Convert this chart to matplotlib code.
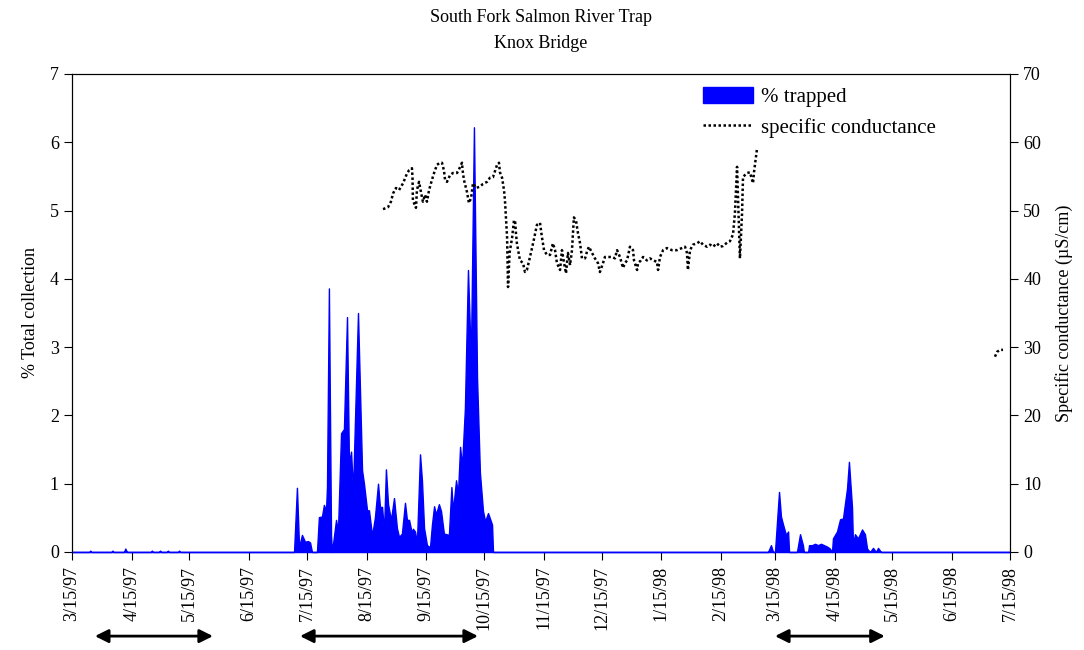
import datetime as dt
import numpy as np
import matplotlib
matplotlib.use('Agg')
import matplotlib.pyplot as plt
import matplotlib.dates as mdates
from matplotlib.patches import Patch
from matplotlib.lines import Line2D
from matplotlib.transforms import blended_transform_factory

plt.rcParams['font.family'] = ['Liberation Serif', 'DejaVu Serif']

# jours comptes depuis le 15/3/97
start = dt.datetime(1997, 3, 15)
end = dt.datetime(1998, 7, 15)

# % du total capture
trap_day = [0, 9, 9.5, 10, 20.5, 21, 21.5, 27, 27.7, 28.5, 41, 41.5, 42, 45.2, 45.7, 46.2,
            49.3, 49.8, 50.3, 55.1, 55.6, 56.1,
            115.3, 116.8, 117.9, 119.4, 121, 122.5, 123.6, 124.6, 127.2, 128.2, 129.8, 130.8,
            131.9, 132.4, 133.4, 134.5, 135, 137.1, 138.1, 139.7, 141.2, 142.8, 143.8, 144.9,
            145.9, 148.5, 150.6, 151.6, 153.2, 154.2, 155.8, 157.3, 158.9, 159.9, 161, 162,
            163, 164.1, 165.6, 167.2, 168.7, 169.8, 171.3, 172.9, 173.9, 175, 176.5, 177,
            178.1, 179.1, 180.7, 181.7, 182.8, 184.3, 185.9, 186.9, 188, 189, 190.5, 191.6,
            193.1, 195.7, 197, 197.8, 199.4, 200.4, 201.5, 202.5, 204, 205.6, 207.1, 208.7,
            210.3, 211.8, 213.4, 214.5, 216, 217.5, 218.1, 218.6,
            361.4, 362.9, 364, 365, 367.1, 368.1, 369.2, 370.7, 371.8, 372.3, 376.4, 378,
            379.5, 380, 382.2, 382.7, 384.2, 385.8, 387.3, 388.9, 390.4, 392, 393.5, 394.6,
            395.1, 397.2, 398.8, 400.3, 401.3, 402.4, 403.4, 405, 405.5, 406.5, 408.1, 410.2,
            411.7, 412.8, 414.3, 415.9, 417.4, 418.5, 420, 487]
trap_pct = [0, 0, 0.02, 0, 0, 0.02, 0, 0, 0.05, 0, 0, 0.02, 0, 0, 0.02, 0,
            0, 0.02, 0, 0, 0.02, 0,
            0, 0.94, 0.07, 0.25, 0.15, 0.16, 0.14, 0, 0, 0.51, 0.52, 0.69,
            0.61, 0.95, 3.86, 0.24, 0, 0.47, 0.3, 1.74, 1.80, 3.44, 1.3, 1.47,
            0.88, 3.50, 1.2, 1.0, 0.61, 0.61, 0.24, 0.51, 1.0, 0.66, 0.66, 0.3,
            1.21, 0.7, 0.47, 0.79, 0.35, 0.22, 0.27, 0.72, 0.47, 0.47, 0.27, 0.34,
            0.3, 0.13, 1.43, 1.05, 0.35, 0.1, 0.07, 0.4, 0.67, 0.55, 0.7, 0.6,
            0.27, 0.25, 0.95, 0.6, 1.05, 0.85, 1.54, 1.25, 2.1, 4.13, 2.81, 6.22,
            2.56, 1.16, 0.6, 0.45, 0.57, 0.45, 0.4, 0,
            0, 0.1, 0, 0, 0.88, 0.52, 0.4, 0.25, 0.3, 0, 0, 0.26,
            0.1, 0, 0, 0.1, 0.1, 0.12, 0.1, 0.12, 0.1, 0.08, 0.05, 0,
            0.2, 0.3, 0.48, 0.49, 0.7, 0.93, 1.32, 0.65, 0.1, 0.26, 0.2, 0.33,
            0.26, 0.05, 0, 0.06, 0, 0.06, 0, 0]

# conductance specifique (uS/cm)
cond_day = [161.5, 164.1, 165.6, 166.7, 168.2, 169.8, 171.9, 173.9, 175, 176.5, 176.8, 177,
            178.6, 179.1, 180.2, 181.2, 182.2, 183.3, 184.3, 185.4, 186.9, 188, 189.5, 191.1,
            192.1, 193.1, 193.7, 194.7, 196.3, 197.8, 199.9, 200.9, 202.5, 202.8, 203.5, 205.1,
            206.1, 207.2, 208.2, 209.8, 211.8, 213.4, 215.5, 217, 218.6, 220.7, 221.7, 222.2,
            223.3, 224.3, 224.8, 225.9, 226.4, 227.2, 228.5, 229.5, 230.1, 230.5, 231, 232.6,
            234.2, 235.2, 236.2, 237.8, 239.4, 241.4, 243, 244, 245.1, 246.6, 248.2, 249.7,
            250.8, 251.8, 253.4, 254.4, 255.5, 256.5, 257.5, 258.6, 259.6, 260.6, 261.7, 262.7,
            263.8, 264.8, 266.4, 267.4, 268.4, 270, 271.5, 273.1, 274.1, 275.7, 276.7, 278.3,
            280.4, 281.9, 283, 284.5, 286.1, 287.1, 288.2, 289.7, 291.3, 291.8, 293.4, 293.9,
            295.4, 296.5, 298.5, 300.1, 301.7, 303.7, 304.3, 305.3, 306.9, 308.9, 311.5, 314.1,
            316.7, 318.3, 319.3, 319.8, 320.9, 322.4, 324.5, 326.1, 327.6, 329.7, 331.3, 332.8,
            334.9, 336.4, 338, 340.1, 341.6, 343.2, 344.2, 345.3, 345.8, 346.8, 347.9, 348.4,
            349.4, 350.5, 352, 353.1, 353.6, 354.1, 355.1, 355.6,
            400, 479.2, 480.3, 481.8, 483.4]
cond_val = [50.2, 50.5, 51.3, 52.5, 53.3, 53.0, 54.0, 55.4, 55.9, 56.2, 54.9, 51.5,
            50.4, 53.0, 54.2, 52.7, 51.3, 52.3, 51.3, 53.0, 54.5, 55.5, 56.7, 57.0,
            57.0, 55.9, 54.5, 54.2, 55.2, 55.5, 55.5, 56.0, 57.0, 55.9, 54.5, 52.7,
            51.1, 51.8, 54.0, 53.3, 53.5, 53.9, 54.2, 54.8, 54.9, 56.7, 57.0, 55.6,
            54.8, 53.0, 51.5, 46.1, 38.8, 43.8, 46.0, 48.6, 48.3, 46.7, 45.2, 42.7,
            42.3, 41.0, 41.3, 43.2, 45.2, 47.9, 48.2, 46.1, 44.2, 43.5, 43.5, 45.2,
            44.2, 42.3, 41.3, 44.2, 42.3, 40.8, 43.8, 42.0, 44.2, 49.0, 48.5, 46.7,
            45.2, 43.0, 43.0, 44.0, 44.7, 43.8, 43.0, 42.3, 41.0, 42.3, 43.2, 43.2,
            43.2, 43.0, 44.2, 43.2, 41.6, 42.3, 42.7, 44.7, 44.2, 42.7, 41.3, 42.3,
            42.7, 43.2, 42.7, 43.0, 42.7, 42.5, 41.3, 43.2, 44.2, 44.5, 44.2, 44.2,
            44.5, 44.7, 43.8, 41.3, 44.2, 45.0, 45.2, 45.5, 45.0, 44.7, 45.0, 44.7,
            45.2, 44.7, 44.8, 45.3, 45.5, 46.5, 49.6, 56.4, 52.0, 43.0, 49.6, 54.9,
            55.2, 55.5, 55.6, 54.5, 54.0, 55.6, 57.8, 58.9,
            np.nan, 28.6, 29.3, 29.6, 29.6]

# periodes marquees par des fleches (debut, fin)
arrow_periods = [(11.9, 73.2), (118.4, 210.8), (365, 422)]


def to_dates(days):
    return [start + dt.timedelta(days=float(d)) for d in days]


fig = plt.figure(figsize=(10.84, 6.5), dpi=100)
ax = fig.add_axes([0.0664, 0.1508, 0.8653, 0.7354])
ax2 = ax.twinx()
ax2.spines['bottom'].set_visible(False)

ax.fill_between(to_dates(trap_day), trap_pct, 0, color='#0000ff', edgecolor='#0000ff',
                linewidth=1, zorder=3, clip_on=False)
ax2.plot(to_dates(cond_day), cond_val, color='black', linewidth=1.8, dashes=(1, 1))

ax.set_xlim(start, end)
ax.set_ylim(0, 7)
ax2.set_ylim(0, 70)
ax.set_yticks(range(0, 8))
ax2.set_yticks(range(0, 80, 10))

ax.xaxis.set_major_locator(mdates.MonthLocator(bymonthday=15))
ax.xaxis.set_major_formatter(mdates.DateFormatter('%-m/%d/%y'))
for lbl in ax.get_xticklabels():
    lbl.set_rotation(90)

ax.tick_params(axis='both', direction='out', length=6, labelsize=13)
ax2.tick_params(axis='y', direction='out', length=6, labelsize=13)
ax.tick_params(axis='x', pad=4)

ax.set_ylabel('% Total collection', fontsize=13, labelpad=8)
ax2.set_ylabel('Specific conductance (\u00b5S/cm)', fontsize=13, labelpad=10)

fig.text(0.499, 0.973, 'South Fork Salmon River Trap', ha='center', va='center', fontsize=13)
fig.text(0.499, 0.933, 'Knox Bridge', ha='center', va='center', fontsize=13)

handles = [Patch(facecolor='#0000ff', edgecolor='#0000ff'),
           Line2D([0], [0], color='black', linewidth=1.8, dashes=(1, 1))]
ax2.legend(handles, ['% trapped', 'specific conductance'], loc='upper left',
           bbox_to_anchor=(0.653, 1.012), frameon=False, fontsize=15,
           handlelength=2.4, handleheight=0.8, handletextpad=0.35, labelspacing=0.5)

# fleches sous l'axe
trans = blended_transform_factory(ax.transData, ax.transAxes)
for d0, d1 in arrow_periods:
    x0 = mdates.date2num(start + dt.timedelta(days=d0))
    x1 = mdates.date2num(start + dt.timedelta(days=d1))
    ax.annotate('', xy=(x1, -0.176), xytext=(x0, -0.176), xycoords=trans, textcoords=trans,
                arrowprops=dict(arrowstyle='<|-|>', color='black', lw=2, mutation_scale=20,
                                shrinkA=0, shrinkB=0), annotation_clip=False)

fig.savefig('out.png', dpi=100)
